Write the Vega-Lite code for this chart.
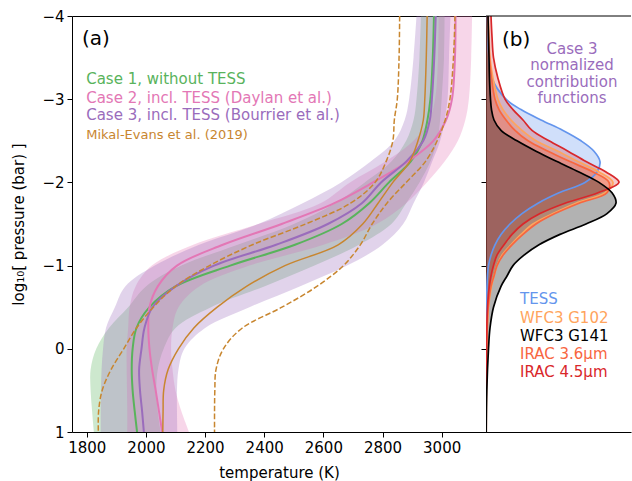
{
  "$schema": "https://vega.github.io/schema/vega-lite/v6.json",
  "background": "white",
  "padding": {"left": 11, "top": 8, "right": 0, "bottom": 0},
  "spacing": 0,
  "bounds": "flush",
  "config": {
    "font": "DejaVu Sans",
    "view": {"stroke": "black", "strokeWidth": 1},
    "axis": {"grid": false, "domainColor": "black", "tickColor": "black", "labelColor": "black", "titleColor": "black", "labelFont": "DejaVu Sans", "titleFont": "DejaVu Sans", "labelFontSize": 15, "titleFontSize": 15, "titleFontWeight": "normal", "tickSize": 5, "tickWidth": 1, "domainWidth": 1},
    "text": {"font": "DejaVu Sans"}
  },
  "resolve": {"scale": {"color": "independent", "opacity": "independent", "x": "independent", "y": "independent"}},
  "datasets": {
    "cases": [
      {"case":"Case 1","p":-4,"T":2974},{"case":"Case 1","p":-3.5,"T":2970},{"case":"Case 1","p":-3,"T":2962},{"case":"Case 1","p":-2.75,"T":2952},{"case":"Case 1","p":-2.5,"T":2935},{"case":"Case 1","p":-2.25,"T":2895},{"case":"Case 1","p":-2,"T":2822},{"case":"Case 1","p":-1.75,"T":2755},{"case":"Case 1","p":-1.5,"T":2662},{"case":"Case 1","p":-1.25,"T":2504},{"case":"Case 1","p":-1,"T":2285},{"case":"Case 1","p":-0.75,"T":2100},{"case":"Case 1","p":-0.5,"T":2012},{"case":"Case 1","p":-0.25,"T":1968},{"case":"Case 1","p":0,"T":1955},{"case":"Case 1","p":0.25,"T":1952},{"case":"Case 1","p":0.5,"T":1955},{"case":"Case 1","p":0.75,"T":1962},{"case":"Case 1","p":1,"T":1970},
      {"case":"Case 2","p":-4,"T":3047},{"case":"Case 2","p":-3.5,"T":3045},{"case":"Case 2","p":-3,"T":3035},{"case":"Case 2","p":-2.75,"T":3015},{"case":"Case 2","p":-2.5,"T":2972},{"case":"Case 2","p":-2.25,"T":2885},{"case":"Case 2","p":-2,"T":2768},{"case":"Case 2","p":-1.75,"T":2637},{"case":"Case 2","p":-1.5,"T":2459},{"case":"Case 2","p":-1.25,"T":2260},{"case":"Case 2","p":-1,"T":2105},{"case":"Case 2","p":-0.75,"T":2040},{"case":"Case 2","p":-0.5,"T":2012},{"case":"Case 2","p":-0.25,"T":2008},{"case":"Case 2","p":0,"T":2012},{"case":"Case 2","p":0.25,"T":2021},{"case":"Case 2","p":0.5,"T":2033},{"case":"Case 2","p":0.75,"T":2044},{"case":"Case 2","p":1,"T":2055},
      {"case":"Case 3","p":-4,"T":2980},{"case":"Case 3","p":-3.5,"T":2975},{"case":"Case 3","p":-3,"T":2967},{"case":"Case 3","p":-2.75,"T":2960},{"case":"Case 3","p":-2.5,"T":2938},{"case":"Case 3","p":-2.25,"T":2880},{"case":"Case 3","p":-2,"T":2795},{"case":"Case 3","p":-1.75,"T":2730},{"case":"Case 3","p":-1.5,"T":2615},{"case":"Case 3","p":-1.25,"T":2440},{"case":"Case 3","p":-1,"T":2230},{"case":"Case 3","p":-0.75,"T":2100},{"case":"Case 3","p":-0.5,"T":2022},{"case":"Case 3","p":-0.25,"T":1995},{"case":"Case 3","p":0,"T":1985},{"case":"Case 3","p":0.25,"T":1977},{"case":"Case 3","p":0.5,"T":1980},{"case":"Case 3","p":0.75,"T":1987},{"case":"Case 3","p":1,"T":1993}
    ],
    "mikal": [
      {"s":"best","p":-4,"T":2951},{"s":"best","p":-3.5,"T":2948},{"s":"best","p":-3,"T":2943},{"s":"best","p":-2.75,"T":2938},{"s":"best","p":-2.5,"T":2920},{"s":"best","p":-2.25,"T":2892},{"s":"best","p":-2,"T":2835},{"s":"best","p":-1.75,"T":2785},{"s":"best","p":-1.5,"T":2733},{"s":"best","p":-1.25,"T":2650},{"s":"best","p":-1,"T":2470},{"s":"best","p":-0.75,"T":2340},{"s":"best","p":-0.5,"T":2241},{"s":"best","p":-0.25,"T":2162},{"s":"best","p":0,"T":2110},{"s":"best","p":0.25,"T":2075},{"s":"best","p":0.5,"T":2060},{"s":"best","p":0.75,"T":2058},{"s":"best","p":1,"T":2057},
      {"s":"lower","p":-4,"T":2858},{"s":"lower","p":-3.5,"T":2856},{"s":"lower","p":-3,"T":2850},{"s":"lower","p":-2.75,"T":2840},{"s":"lower","p":-2.5,"T":2835},{"s":"lower","p":-2.25,"T":2812},{"s":"lower","p":-2,"T":2775},{"s":"lower","p":-1.75,"T":2692},{"s":"lower","p":-1.5,"T":2540},{"s":"lower","p":-1.25,"T":2360},{"s":"lower","p":-1,"T":2215},{"s":"lower","p":-0.75,"T":2100},{"s":"lower","p":-0.5,"T":2025},{"s":"lower","p":-0.25,"T":1968},{"s":"lower","p":0,"T":1925},{"s":"lower","p":0.25,"T":1882},{"s":"lower","p":0.5,"T":1852},{"s":"lower","p":0.75,"T":1840},{"s":"lower","p":1,"T":1839},
      {"s":"upper","p":-4,"T":3045},{"s":"upper","p":-3.5,"T":3040},{"s":"upper","p":-3,"T":3028},{"s":"upper","p":-2.75,"T":3012},{"s":"upper","p":-2.5,"T":2985},{"s":"upper","p":-2.25,"T":2945},{"s":"upper","p":-2,"T":2880},{"s":"upper","p":-1.75,"T":2815},{"s":"upper","p":-1.5,"T":2765},{"s":"upper","p":-1.25,"T":2725},{"s":"upper","p":-1,"T":2668},{"s":"upper","p":-0.75,"T":2578},{"s":"upper","p":-0.5,"T":2460},{"s":"upper","p":-0.25,"T":2326},{"s":"upper","p":0,"T":2262},{"s":"upper","p":0.25,"T":2237},{"s":"upper","p":0.5,"T":2233},{"s":"upper","p":0.75,"T":2232},{"s":"upper","p":1,"T":2232}
    ],
    "bands": [
      {"case":"Case 1","p":-4,"lo":2930,"hi":3010},{"case":"Case 1","p":-3.5,"lo":2925,"hi":3008},{"case":"Case 1","p":-3,"lo":2915,"hi":3000},{"case":"Case 1","p":-2.75,"lo":2905,"hi":2995},{"case":"Case 1","p":-2.5,"lo":2880,"hi":2985},{"case":"Case 1","p":-2.25,"lo":2830,"hi":2962},{"case":"Case 1","p":-2,"lo":2740,"hi":2925},{"case":"Case 1","p":-1.75,"lo":2640,"hi":2880},{"case":"Case 1","p":-1.5,"lo":2500,"hi":2830},{"case":"Case 1","p":-1.25,"lo":2310,"hi":2720},{"case":"Case 1","p":-1,"lo":2120,"hi":2570},{"case":"Case 1","p":-0.75,"lo":2000,"hi":2400},{"case":"Case 1","p":-0.5,"lo":1940,"hi":2220},{"case":"Case 1","p":-0.25,"lo":1875,"hi":2100},{"case":"Case 1","p":0,"lo":1832,"hi":2060},{"case":"Case 1","p":0.25,"lo":1813,"hi":2040},{"case":"Case 1","p":0.5,"lo":1813,"hi":2035},{"case":"Case 1","p":0.75,"lo":1818,"hi":2040},{"case":"Case 1","p":1,"lo":1824,"hi":2050},
      {"case":"Case 2","p":-4,"lo":2990,"hi":3103},{"case":"Case 2","p":-3.5,"lo":2988,"hi":3100},{"case":"Case 2","p":-3,"lo":2978,"hi":3092},{"case":"Case 2","p":-2.75,"lo":2958,"hi":3080},{"case":"Case 2","p":-2.5,"lo":2905,"hi":3055},{"case":"Case 2","p":-2.25,"lo":2810,"hi":3010},{"case":"Case 2","p":-2,"lo":2690,"hi":2950},{"case":"Case 2","p":-1.75,"lo":2590,"hi":2880},{"case":"Case 2","p":-1.5,"lo":2380,"hi":2780},{"case":"Case 2","p":-1.25,"lo":2160,"hi":2600},{"case":"Case 2","p":-1,"lo":2020,"hi":2350},{"case":"Case 2","p":-0.75,"lo":1965,"hi":2180},{"case":"Case 2","p":-0.5,"lo":1945,"hi":2110},{"case":"Case 2","p":-0.25,"lo":1940,"hi":2090},{"case":"Case 2","p":0,"lo":1935,"hi":2085},{"case":"Case 2","p":0.25,"lo":1935,"hi":2090},{"case":"Case 2","p":0.5,"lo":1936,"hi":2100},{"case":"Case 2","p":0.75,"lo":1937,"hi":2120},{"case":"Case 2","p":1,"lo":1937,"hi":2146},
      {"case":"Case 3","p":-4,"lo":2915,"hi":3030},{"case":"Case 3","p":-3.5,"lo":2905,"hi":3025},{"case":"Case 3","p":-3,"lo":2890,"hi":3020},{"case":"Case 3","p":-2.75,"lo":2875,"hi":3010},{"case":"Case 3","p":-2.5,"lo":2840,"hi":2995},{"case":"Case 3","p":-2.25,"lo":2760,"hi":2968},{"case":"Case 3","p":-2,"lo":2660,"hi":2940},{"case":"Case 3","p":-1.75,"lo":2530,"hi":2905},{"case":"Case 3","p":-1.5,"lo":2380,"hi":2870},{"case":"Case 3","p":-1.25,"lo":2180,"hi":2800},{"case":"Case 3","p":-1,"lo":2030,"hi":2680},{"case":"Case 3","p":-0.75,"lo":1930,"hi":2520},{"case":"Case 3","p":-0.5,"lo":1895,"hi":2350},{"case":"Case 3","p":-0.25,"lo":1865,"hi":2200},{"case":"Case 3","p":0,"lo":1855,"hi":2130},{"case":"Case 3","p":0.25,"lo":1850,"hi":2110},{"case":"Case 3","p":0.5,"lo":1848,"hi":2105},{"case":"Case 3","p":0.75,"lo":1847,"hi":2105},{"case":"Case 3","p":1,"lo":1847,"hi":2106}
    ],
    "cf": [
      {"b":"TESS","p":-4,"c":0.015},{"b":"TESS","p":-3.75,"c":0.02},{"b":"TESS","p":-3.5,"c":0.03},{"b":"TESS","p":-3.25,"c":0.06},{"b":"TESS","p":-3,"c":0.2},{"b":"TESS","p":-2.875,"c":0.35},{"b":"TESS","p":-2.75,"c":0.55},{"b":"TESS","p":-2.625,"c":0.77},{"b":"TESS","p":-2.5,"c":0.95},{"b":"TESS","p":-2.375,"c":1.08},{"b":"TESS","p":-2.25,"c":1.14},{"b":"TESS","p":-2.125,"c":1.11},{"b":"TESS","p":-2,"c":0.99},{"b":"TESS","p":-1.875,"c":0.73},{"b":"TESS","p":-1.75,"c":0.52},{"b":"TESS","p":-1.625,"c":0.36},{"b":"TESS","p":-1.5,"c":0.24},{"b":"TESS","p":-1.375,"c":0.15},{"b":"TESS","p":-1.25,"c":0.09},{"b":"TESS","p":-1.125,"c":0.05},{"b":"TESS","p":-1,"c":0.025},{"b":"TESS","p":-0.875,"c":0.015},{"b":"TESS","p":-0.75,"c":0.01},{"b":"TESS","p":-0.5,"c":0.005},{"b":"TESS","p":-0.25,"c":0.002},{"b":"TESS","p":0,"c":0.001},{"b":"TESS","p":0.5,"c":0},{"b":"TESS","p":1,"c":0},
      {"b":"WFC3 G102","p":-4,"c":0.02},{"b":"WFC3 G102","p":-3.75,"c":0.03},{"b":"WFC3 G102","p":-3.5,"c":0.04},{"b":"WFC3 G102","p":-3.25,"c":0.07},{"b":"WFC3 G102","p":-3,"c":0.12},{"b":"WFC3 G102","p":-2.875,"c":0.17},{"b":"WFC3 G102","p":-2.75,"c":0.25},{"b":"WFC3 G102","p":-2.625,"c":0.36},{"b":"WFC3 G102","p":-2.5,"c":0.5},{"b":"WFC3 G102","p":-2.375,"c":0.72},{"b":"WFC3 G102","p":-2.25,"c":0.92},{"b":"WFC3 G102","p":-2.125,"c":1.13},{"b":"WFC3 G102","p":-2,"c":1.27},{"b":"WFC3 G102","p":-1.875,"c":1.19},{"b":"WFC3 G102","p":-1.75,"c":0.9},{"b":"WFC3 G102","p":-1.625,"c":0.67},{"b":"WFC3 G102","p":-1.5,"c":0.47},{"b":"WFC3 G102","p":-1.375,"c":0.35},{"b":"WFC3 G102","p":-1.25,"c":0.25},{"b":"WFC3 G102","p":-1.125,"c":0.16},{"b":"WFC3 G102","p":-1,"c":0.11},{"b":"WFC3 G102","p":-0.875,"c":0.08},{"b":"WFC3 G102","p":-0.75,"c":0.055},{"b":"WFC3 G102","p":-0.5,"c":0.025},{"b":"WFC3 G102","p":-0.25,"c":0.013},{"b":"WFC3 G102","p":0,"c":0.007},{"b":"WFC3 G102","p":0.5,"c":0.003},{"b":"WFC3 G102","p":1,"c":0.002},
      {"b":"IRAC 3.6μm","p":-4,"c":0.02},{"b":"IRAC 3.6μm","p":-3.75,"c":0.025},{"b":"IRAC 3.6μm","p":-3.5,"c":0.035},{"b":"IRAC 3.6μm","p":-3.25,"c":0.055},{"b":"IRAC 3.6μm","p":-3,"c":0.09},{"b":"IRAC 3.6μm","p":-2.875,"c":0.13},{"b":"IRAC 3.6μm","p":-2.75,"c":0.2},{"b":"IRAC 3.6μm","p":-2.625,"c":0.29},{"b":"IRAC 3.6μm","p":-2.5,"c":0.42},{"b":"IRAC 3.6μm","p":-2.375,"c":0.62},{"b":"IRAC 3.6μm","p":-2.25,"c":0.84},{"b":"IRAC 3.6μm","p":-2.125,"c":1.07},{"b":"IRAC 3.6μm","p":-2,"c":1.23},{"b":"IRAC 3.6μm","p":-1.875,"c":1.21},{"b":"IRAC 3.6μm","p":-1.75,"c":0.93},{"b":"IRAC 3.6μm","p":-1.625,"c":0.69},{"b":"IRAC 3.6μm","p":-1.5,"c":0.5},{"b":"IRAC 3.6μm","p":-1.375,"c":0.37},{"b":"IRAC 3.6μm","p":-1.25,"c":0.26},{"b":"IRAC 3.6μm","p":-1.125,"c":0.17},{"b":"IRAC 3.6μm","p":-1,"c":0.11},{"b":"IRAC 3.6μm","p":-0.875,"c":0.08},{"b":"IRAC 3.6μm","p":-0.75,"c":0.05},{"b":"IRAC 3.6μm","p":-0.5,"c":0.022},{"b":"IRAC 3.6μm","p":-0.25,"c":0.011},{"b":"IRAC 3.6μm","p":0,"c":0.006},{"b":"IRAC 3.6μm","p":0.5,"c":0.003},{"b":"IRAC 3.6μm","p":1,"c":0.002},
      {"b":"IRAC 4.5μm","p":-4,"c":0.05},{"b":"IRAC 4.5μm","p":-3.75,"c":0.06},{"b":"IRAC 4.5μm","p":-3.5,"c":0.075},{"b":"IRAC 4.5μm","p":-3.25,"c":0.12},{"b":"IRAC 4.5μm","p":-3,"c":0.19},{"b":"IRAC 4.5μm","p":-2.875,"c":0.27},{"b":"IRAC 4.5μm","p":-2.75,"c":0.37},{"b":"IRAC 4.5μm","p":-2.625,"c":0.46},{"b":"IRAC 4.5μm","p":-2.5,"c":0.63},{"b":"IRAC 4.5μm","p":-2.375,"c":0.82},{"b":"IRAC 4.5μm","p":-2.25,"c":1.0},{"b":"IRAC 4.5μm","p":-2.125,"c":1.2},{"b":"IRAC 4.5μm","p":-2,"c":1.33},{"b":"IRAC 4.5μm","p":-1.875,"c":1.12},{"b":"IRAC 4.5μm","p":-1.75,"c":0.79},{"b":"IRAC 4.5μm","p":-1.625,"c":0.54},{"b":"IRAC 4.5μm","p":-1.5,"c":0.37},{"b":"IRAC 4.5μm","p":-1.375,"c":0.26},{"b":"IRAC 4.5μm","p":-1.25,"c":0.18},{"b":"IRAC 4.5μm","p":-1.125,"c":0.11},{"b":"IRAC 4.5μm","p":-1,"c":0.075},{"b":"IRAC 4.5μm","p":-0.875,"c":0.05},{"b":"IRAC 4.5μm","p":-0.75,"c":0.033},{"b":"IRAC 4.5μm","p":-0.5,"c":0.015},{"b":"IRAC 4.5μm","p":-0.25,"c":0.008},{"b":"IRAC 4.5μm","p":0,"c":0.005},{"b":"IRAC 4.5μm","p":0.5,"c":0.002},{"b":"IRAC 4.5μm","p":1,"c":0.001},
      {"b":"WFC3 G141","p":-4,"c":0.02},{"b":"WFC3 G141","p":-3.75,"c":0.025},{"b":"WFC3 G141","p":-3.5,"c":0.03},{"b":"WFC3 G141","p":-3.25,"c":0.035},{"b":"WFC3 G141","p":-3,"c":0.045},{"b":"WFC3 G141","p":-2.875,"c":0.055},{"b":"WFC3 G141","p":-2.75,"c":0.08},{"b":"WFC3 G141","p":-2.625,"c":0.15},{"b":"WFC3 G141","p":-2.5,"c":0.31},{"b":"WFC3 G141","p":-2.375,"c":0.5},{"b":"WFC3 G141","p":-2.25,"c":0.71},{"b":"WFC3 G141","p":-2.125,"c":0.93},{"b":"WFC3 G141","p":-2,"c":1.13},{"b":"WFC3 G141","p":-1.875,"c":1.26},{"b":"WFC3 G141","p":-1.75,"c":1.3},{"b":"WFC3 G141","p":-1.625,"c":1.21},{"b":"WFC3 G141","p":-1.5,"c":1.0},{"b":"WFC3 G141","p":-1.375,"c":0.74},{"b":"WFC3 G141","p":-1.25,"c":0.53},{"b":"WFC3 G141","p":-1.125,"c":0.38},{"b":"WFC3 G141","p":-1,"c":0.27},{"b":"WFC3 G141","p":-0.875,"c":0.21},{"b":"WFC3 G141","p":-0.75,"c":0.15},{"b":"WFC3 G141","p":-0.5,"c":0.075},{"b":"WFC3 G141","p":-0.25,"c":0.04},{"b":"WFC3 G141","p":0,"c":0.025},{"b":"WFC3 G141","p":0.5,"c":0.008},{"b":"WFC3 G141","p":1,"c":0.002}
    ]
  },
  "hconcat": [
    {
      "width": 414,
      "height": 416,
      "layer": [
        {
          "data": {"name": "bands"},
          "mark": {"type": "area", "orient": "horizontal", "opacity": 0.3, "interpolate": "catmull-rom", "clip": true},
          "encoding": {
            "y": {"field": "p", "type": "quantitative", "scale": {"domain": [-4, 1], "reverse": true, "nice": false, "zero": false},
                  "axis": {"values": [-4, -3, -2, -1, 0, 1], "format": "d", "title": "log₁₀[ pressure (bar) ]", "labelPadding": 3, "titlePadding": 15, "domain": false}},
            "x": {"field": "lo", "type": "quantitative", "scale": {"domain": [1750, 3150], "nice": false, "zero": false},
                  "axis": {"values": [1800, 1900, 2000, 2100, 2200, 2300, 2400, 2500, 2600, 2700, 2800, 2900, 3000, 3100],
                           "labelExpr": "datum.value % 200 === 0 ? '' + datum.value : ''",
                           "tickSize": {"condition": {"test": "datum.value % 200 === 0", "value": 5}, "value": 3},
                           "labelOverlap": false, "labelFlush": false, "labelPadding": 3, "titlePadding": 10, "title": "temperature (K)", "domain": false}},
            "x2": {"field": "hi"},
            "color": {"field": "case", "type": "nominal", "scale": {"domain": ["Case 1", "Case 2", "Case 3"], "range": ["#59b35c", "#e377b5", "#9a6cbc"]}, "legend": null}
          }
        },
        {
          "data": {"name": "cases"},
          "mark": {"type": "line", "strokeWidth": 2, "interpolate": "catmull-rom", "clip": true},
          "encoding": {
            "y": {"field": "p", "type": "quantitative"},
            "x": {"field": "T", "type": "quantitative"},
            "order": {"field": "p", "type": "quantitative"},
            "color": {"field": "case", "type": "nominal", "legend": null}
          }
        },
        {
          "data": {"name": "mikal"},
          "transform": [{"filter": "datum.s === 'best'"}],
          "mark": {"type": "line", "strokeWidth": 1.5, "color": "#c8862f", "interpolate": "catmull-rom", "clip": true},
          "encoding": {
            "y": {"field": "p", "type": "quantitative"},
            "x": {"field": "T", "type": "quantitative"},
            "order": {"field": "p", "type": "quantitative"}
          }
        },
        {
          "data": {"name": "mikal"},
          "transform": [{"filter": "datum.s !== 'best'"}],
          "mark": {"type": "line", "strokeWidth": 1.5, "color": "#c8862f", "strokeDash": [5.5, 2.4], "interpolate": "catmull-rom", "clip": true},
          "encoding": {
            "y": {"field": "p", "type": "quantitative"},
            "x": {"field": "T", "type": "quantitative"},
            "detail": {"field": "s", "type": "nominal"},
            "order": {"field": "p", "type": "quantitative"}
          }
        },
        {"data": {"values": [{}]}, "mark": {"type": "text", "text": "(a)", "fontSize": 20, "align": "left", "baseline": "alphabetic", "color": "black"},
         "encoding": {"x": {"datum": 1784}, "y": {"datum": -3.648}}},
        {"data": {"values": [{}]}, "mark": {"type": "text", "text": "Case 1, without TESS", "fontSize": 15, "align": "left", "baseline": "alphabetic", "color": "#59b35c"},
         "encoding": {"x": {"datum": 1798}, "y": {"datum": -3.179}}},
        {"data": {"values": [{}]}, "mark": {"type": "text", "text": "Case 2, incl. TESS (Daylan et al.)", "fontSize": 15, "align": "left", "baseline": "alphabetic", "color": "#e377b5"},
         "encoding": {"x": {"datum": 1798}, "y": {"datum": -2.958}}},
        {"data": {"values": [{}]}, "mark": {"type": "text", "text": "Case 3, incl. TESS (Bourrier et al.)", "fontSize": 15, "align": "left", "baseline": "alphabetic", "color": "#9a6cbc"},
         "encoding": {"x": {"datum": 1798}, "y": {"datum": -2.746}}},
        {"data": {"values": [{}]}, "mark": {"type": "text", "text": "Mikal-Evans et al. (2019)", "fontSize": 13, "align": "left", "baseline": "alphabetic", "color": "#c8862f"},
         "encoding": {"x": {"datum": 1798}, "y": {"datum": -2.518}}}
      ]
    },
    {
      "width": 145,
      "height": 416,
      "view": {"stroke": null},
      "layer": [
        {
          "data": {"name": "cf"},
          "transform": [{"filter": "datum.b !== 'WFC3 G141'"}],
          "mark": {"type": "area", "orient": "horizontal", "interpolate": "catmull-rom", "clip": true},
          "encoding": {
            "y": {"field": "p", "type": "quantitative", "scale": {"domain": [-4, 1], "reverse": true, "nice": false, "zero": false},
                  "axis": {"values": [-4, -3, -2, -1, 0, 1], "labels": false, "title": null, "domain": true, "tickSize": 5}},
            "x": {"field": "c", "type": "quantitative", "stack": null, "scale": {"domain": [0, 1.45], "nice": false},
                  "axis": {"labels": false, "ticks": false, "title": null, "domain": true}},
            "color": {"field": "b", "type": "nominal", "scale": {"domain": ["TESS", "WFC3 G102", "WFC3 G141", "IRAC 3.6μm", "IRAC 4.5μm"], "range": ["#6495ed", "#ffa45c", "#000000", "#f8663f", "#d9272a"]}, "legend": null},
            "opacity": {"field": "b", "type": "nominal", "scale": {"domain": ["TESS", "WFC3 G102", "IRAC 3.6μm", "IRAC 4.5μm"], "range": [0.3, 0.25, 0.2, 0.17]}, "legend": null}
          }
        },
        {
          "data": {"name": "cf"},
          "transform": [{"filter": "datum.b === 'WFC3 G141'"}],
          "mark": {"type": "area", "orient": "horizontal", "interpolate": "catmull-rom", "clip": true, "color": "black", "opacity": 0.3},
          "encoding": {
            "y": {"field": "p", "type": "quantitative"},
            "x": {"field": "c", "type": "quantitative", "stack": null}
          }
        },
        {
          "data": {"name": "cf"},
          "mark": {"type": "line", "strokeWidth": 1.7, "interpolate": "catmull-rom", "clip": true},
          "encoding": {
            "y": {"field": "p", "type": "quantitative"},
            "x": {"field": "c", "type": "quantitative"},
            "order": {"field": "p", "type": "quantitative"},
            "color": {"field": "b", "type": "nominal", "legend": null}
          }
        },
        {"data": {"values": [{}]}, "mark": {"type": "rule", "color": "black", "strokeWidth": 1}, "encoding": {"y": {"datum": -4}}},
        {"data": {"values": [{}]}, "mark": {"type": "text", "text": "(b)", "fontSize": 20, "align": "left", "baseline": "alphabetic", "color": "black"},
         "encoding": {"x": {"datum": 0.16}, "y": {"datum": -3.64}}},
        {"data": {"values": [{}]}, "mark": {"type": "text", "text": ["Case 3", "normalized", "contribution", "functions"], "lineHeight": 16.2, "fontSize": 15, "align": "center", "baseline": "alphabetic", "color": "#9a6cbc"},
         "encoding": {"x": {"datum": 0.86}, "y": {"datum": -3.54}}},
        {"data": {"values": [{}]}, "mark": {"type": "text", "text": "TESS", "fontSize": 15, "align": "left", "baseline": "alphabetic", "color": "#6495ed"},
         "encoding": {"x": {"datum": 0.34}, "y": {"datum": -0.535}}},
        {"data": {"values": [{}]}, "mark": {"type": "text", "text": "WFC3 G102", "fontSize": 15, "align": "left", "baseline": "alphabetic", "color": "#ffa45c"},
         "encoding": {"x": {"datum": 0.34}, "y": {"datum": -0.314}}},
        {"data": {"values": [{}]}, "mark": {"type": "text", "text": "WFC3 G141", "fontSize": 15, "align": "left", "baseline": "alphabetic", "color": "#000000"},
         "encoding": {"x": {"datum": 0.34}, "y": {"datum": -0.094}}},
        {"data": {"values": [{}]}, "mark": {"type": "text", "text": "IRAC 3.6μm", "fontSize": 15, "align": "left", "baseline": "alphabetic", "color": "#f8663f"},
         "encoding": {"x": {"datum": 0.34}, "y": {"datum": 0.118}}},
        {"data": {"values": [{}]}, "mark": {"type": "text", "text": "IRAC 4.5μm", "fontSize": 15, "align": "left", "baseline": "alphabetic", "color": "#d9272a"},
         "encoding": {"x": {"datum": 0.34}, "y": {"datum": 0.339}}}
      ]
    }
  ]
}
